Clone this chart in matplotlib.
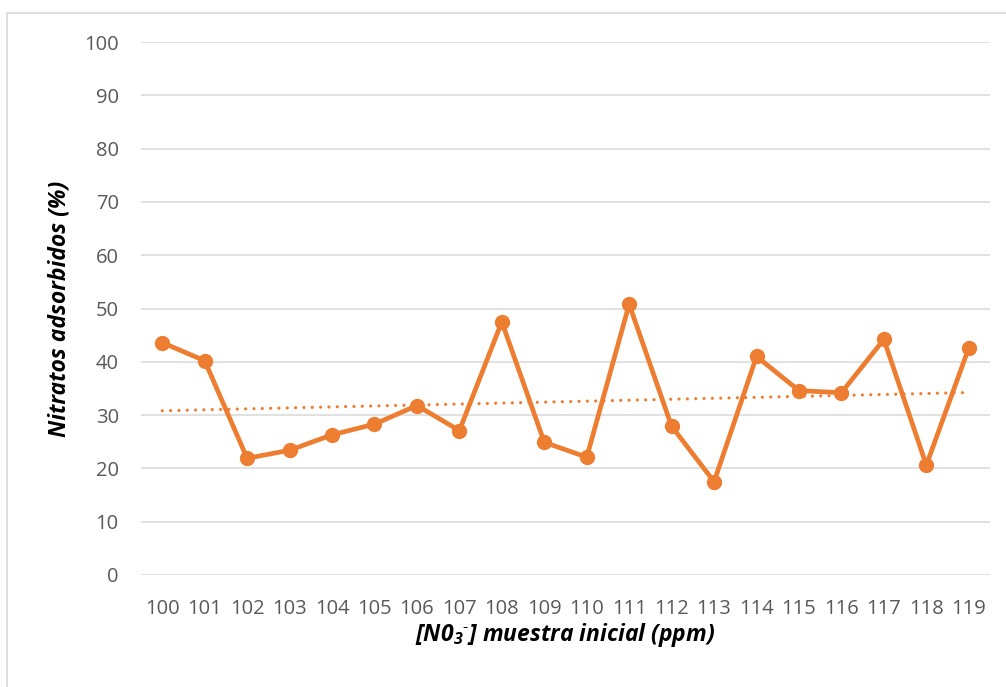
import numpy as np
import matplotlib
matplotlib.use("Agg")
import matplotlib.pyplot as plt
from matplotlib.patches import Rectangle

plt.rcParams['font.family'] = ['Open Sans', 'DejaVu Sans']
plt.rcParams['mathtext.fontset'] = 'custom'
plt.rcParams['mathtext.rm'] = 'Open Sans:italic:bold'
plt.rcParams['mathtext.it'] = 'Open Sans:italic:bold'
plt.rcParams['mathtext.bf'] = 'Open Sans:italic:bold'

# Initial nitrate concentration of the sample (ppm) and percentage adsorbed
concentraciones = [str(c) for c in range(100, 120)]
adsorbidos = [43.6, 40.2, 21.9, 23.4, 26.3, 28.3, 31.8, 27.1, 47.5, 24.9,
              22.1, 50.8, 27.9, 17.5, 41.0, 34.6, 34.2, 44.2, 20.6, 42.6]
y_ticks = list(range(0, 101, 10))

W, H = 1006, 687
fig = plt.figure(figsize=(W / 100, H / 100), dpi=100)
ax = fig.add_axes([141 / W, 1 - 575 / H, (990 - 141) / W, (575 - 42) / H])

orange = '#ED7D31'
x = np.arange(len(concentraciones))

# Linear trendline through the series
coef = np.polyfit(x, adsorbidos, 1)
ax.plot(x, np.polyval(coef, x), color=orange, lw=2.3,
        linestyle=(0, (0.01, 2.6)), dash_capstyle='round', zorder=2)

ax.plot(x, adsorbidos, color=orange, lw=3.4, marker='o', markersize=10,
        zorder=3, clip_on=False)

ax.set_xlim(-0.5, len(x) - 0.5)
ax.set_ylim(0, 100)
ax.set_yticks(y_ticks)
ax.set_xticks(x)
ax.set_xticklabels(concentraciones)
ax.grid(axis='y', color='#D9D9D9', lw=1.1)
ax.set_axisbelow(True)
for s in ax.spines.values():
    s.set_visible(False)
ax.tick_params(length=0, labelsize=14.5, colors='#595959')
ax.tick_params(axis='x', pad=17)
ax.tick_params(axis='y', pad=16)

ax.set_ylabel('Nitratos adsorbidos (%)', fontsize=16.5, fontweight='bold',
              fontstyle='italic', color='black', labelpad=9)
ax.set_xlabel('[N0$_{3}$$^{\u2010}$] muestra inicial (ppm)', fontsize=16.5,
              fontweight='bold', fontstyle='italic', color='black', labelpad=2)

# Chart frame
fig.patches.append(Rectangle((7 / W, -0.1), 1.2, 1 - 13 / H + 0.1,
                             transform=fig.transFigure, fill=False,
                             edgecolor='#D9D9D9', lw=1.2))

fig.savefig('out.png', dpi=100, facecolor='white')
